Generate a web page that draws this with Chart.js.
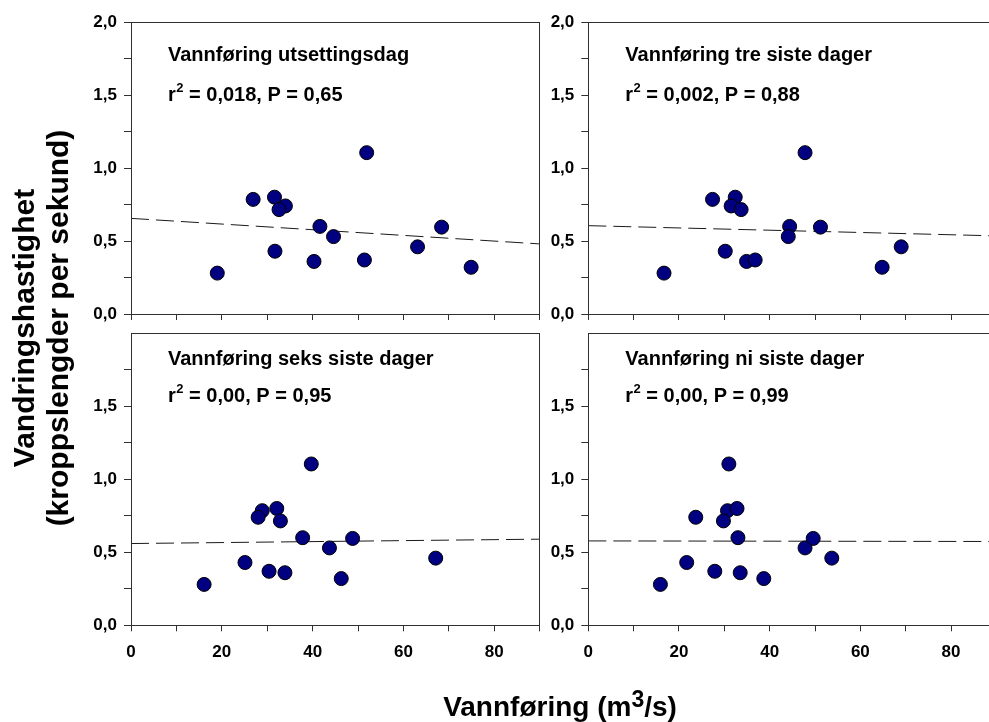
<!DOCTYPE html>
<html>
<head>
<meta charset="utf-8">
<script src="https://cdn.jsdelivr.net/npm/chart.js@4.4.1/dist/chart.umd.min.js"></script>
<style>
  html, body { margin: 0; padding: 0; background: #fff; overflow: hidden; }
  #fig { position: relative; width: 989px; height: 722px; overflow: hidden; background: #fff;
         font-family: "Liberation Sans", Arial, Helvetica, sans-serif; color: #000; }
  #fig canvas { position: absolute; }
  #ytitle { position: absolute; left: -189px; top: 294px; width: 460px; height: 68px;
            transform: rotate(-90deg); transform-origin: 50% 50%;
            text-align: center; font-weight: bold; font-size: 30px; line-height: 34px; white-space: nowrap; }
  #xtitle { position: absolute; left: 360px; top: 691px; width: 400px; text-align: center;
            font-weight: bold; font-size: 28px; line-height: 32px; white-space: nowrap; }
  #xtitle .sup { font-size: 23px; position: relative; top: -9px; }
</style>
</head>
<body>
<div id="fig">
  <canvas id="p0" width="560" height="340" style="left:0px;top:0px;width:560px;height:340px"></canvas>
  <canvas id="p1" width="480" height="340" style="left:540px;top:0px;width:480px;height:340px"></canvas>
  <canvas id="p2" width="560" height="406" style="left:0px;top:316px;width:560px;height:406px"></canvas>
  <canvas id="p3" width="480" height="406" style="left:540px;top:316px;width:480px;height:406px"></canvas>
  <div id="ytitle"><div>Vandringshastighet</div><div>(kroppslengder per sekund)</div></div>
  <div id="xtitle">Vannføring (m<span class="sup">3</span>/s)</div>
</div>
<script>
// Migration speed (body lengths per second) for each tagged fish
const speed = [0.28, 0.785, 0.80, 0.74, 0.715, 0.43, 0.60, 0.53, 0.36, 1.105, 0.37, 0.46, 0.595, 0.32];

// Water discharge (m3/s) for the same fish, averaged over different periods
const flowReleaseDay = [19.0, 26.9, 31.6, 34.0, 32.6, 31.7, 41.6, 44.6, 40.3, 51.9, 51.4, 63.1, 68.4, 74.9];
const flowLast3Days  = [16.7, 27.4, 32.4, 31.5, 33.7, 30.2, 44.4, 44.1, 34.9, 47.8, 36.8, 69.0, 51.2, 64.8];
const flowLast6Days  = [16.1, 28.9, 32.1, 28.0, 32.9, 25.1, 37.8, 43.7, 33.9, 39.7, 30.4, 67.1, 48.8, 46.3];
const flowLast9Days  = [15.9, 30.7, 32.8, 23.7, 29.8, 21.7, 33.0, 47.8, 33.5, 31.0, 27.9, 53.7, 49.6, 38.7];

const panelTitles = ["Vannføring utsettingsdag", "Vannføring tre siste dager",
                     "Vannføring seks siste dager", "Vannføring ni siste dager"];
const r2Values = ["0,018", "0,002", "0,00", "0,00"];
const pValues  = ["0,65", "0,88", "0,95", "0,99"];

// Fitted regression line, value at discharge 0 and at discharge 90
const fitAtZero = [0.655, 0.605, 0.560, 0.578];
const fitAtNinety = [0.480, 0.535, 0.590, 0.574];

const xMin = 0, xMax = 90, xStep = 10, xLabelEvery = 20;
const yMin = 0, yMax = 2.0, yStep = 0.25, yLabelEvery = 0.5;

const flows = [flowReleaseDay, flowLast3Days, flowLast6Days, flowLast9Days];

const INK = "#000";
const AXIS = "#303030";
const FONT = '"Liberation Sans", Arial, Helvetica, sans-serif';

// Box frame around the plotting area
const framePlugin = {
  id: "frame",
  afterDraw(chart) {
    const a = chart.chartArea, ctx = chart.ctx;
    const al = v => Math.round(v - 0.5) + 0.5;
    ctx.save();
    ctx.strokeStyle = AXIS;
    ctx.lineWidth = 1;
    ctx.strokeRect(al(a.left), al(a.top), al(a.right) - al(a.left), al(a.bottom) - al(a.top));
    ctx.restore();
  }
};

// Panel heading and regression statistics written inside the plot
const panelTextPlugin = {
  id: "panelText",
  afterDatasetsDraw(chart, args, opts) {
    const a = chart.chartArea, ctx = chart.ctx;
    const x0 = a.left + opts.dx;
    ctx.save();
    ctx.fillStyle = INK;
    ctx.textBaseline = "alphabetic";
    ctx.textAlign = "left";
    ctx.font = "bold 20px " + FONT;
    ctx.fillText(opts.title, x0, a.top + opts.titleDy);
    const yb = a.top + opts.statsDy;
    ctx.fillText("r", x0, yb);
    let x = x0 + ctx.measureText("r").width;
    ctx.font = "bold 13px " + FONT;
    ctx.fillText("2", x + 0.5, yb - 9);
    x += ctx.measureText("2").width + 0.5;
    ctx.font = "bold 20px " + FONT;
    ctx.fillText(" = " + opts.r2 + ", P = " + opts.p, x, yb);
    ctx.restore();
  }
};

function makePanel(i, cfg) {
  const showXLabels = cfg.bottomRow;
  const hideTopY = cfg.bottomRow;
  const points = flows[i].map((f, k) => ({ x: f, y: speed[k] }));
  return new Chart(document.getElementById("p" + i), {
    type: "scatter",
    data: {
      datasets: [
        {
          type: "scatter",
          data: points,
          order: 0,
          pointRadius: 7,
          pointHoverRadius: 7,
          pointBackgroundColor: "#000080",
          pointBorderColor: "#000",
          pointBorderWidth: 1
        },
        {
          type: "line",
          data: [{ x: xMin, y: fitAtZero[i] }, { x: xMax, y: fitAtNinety[i] }],
          order: 1,
          borderColor: "#1a1a1a",
          borderWidth: 1,
          borderDash: [18, 7],
          pointRadius: 0,
          fill: false,
          tension: 0
        }
      ]
    },
    options: {
      responsive: false,
      animation: false,
      devicePixelRatio: 1,
      events: [],
      layout: { padding: cfg.padding },
      plugins: {
        legend: { display: false },
        tooltip: { enabled: false },
        title: { display: false },
        panelText: {
          title: panelTitles[i], r2: r2Values[i], p: pValues[i],
          dx: 37, titleDy: cfg.titleDy, statsDy: cfg.statsDy
        }
      },
      scales: {
        x: {
          type: "linear",
          position: "bottom",
          min: xMin, max: xMax,
          afterFit(s) { s.height = cfg.xAxisHeight; },
          border: { display: true, color: AXIS, width: 1 },
          grid: { display: true, drawOnChartArea: false, drawTicks: true, tickLength: 6, tickColor: AXIS, tickWidth: 1 },
          ticks: {
            stepSize: xStep, autoSkip: false, maxRotation: 0, minRotation: 0,
            padding: 11, color: INK,
            font: { family: FONT, size: 17, weight: "bold" },
            callback: v => (showXLabels && v % xLabelEvery === 0 && v < xMax) ? String(v) : ""
          }
        },
        y: {
          type: "linear",
          position: "left",
          min: yMin, max: yMax,
          afterFit(s) { s.width = cfg.yAxisWidth; },
          border: { display: true, color: AXIS, width: 1 },
          grid: {
            display: true, drawOnChartArea: false, drawTicks: true, tickLength: 7, tickWidth: 1,
            tickColor: c => (hideTopY && c.tick && Math.abs(c.tick.value - yMax) < 1e-9) ? "rgba(0,0,0,0)" : AXIS
          },
          ticks: {
            stepSize: yStep, autoSkip: false, padding: 7, color: INK,
            font: { family: FONT, size: 17, weight: "bold" },
            callback: v => {
              const onLabel = Math.abs(v / yLabelEvery - Math.round(v / yLabelEvery)) < 1e-9;
              if (!onLabel) return "";
              if (hideTopY && Math.abs(v - yMax) < 1e-9) return "";
              return v.toFixed(1).replace(".", ",");
            }
          }
        }
      }
    },
    plugins: [framePlugin, panelTextPlugin]
  });
}

makePanel(0, { bottomRow: false, yAxisWidth: 131, xAxisHeight: 20,
  padding: { left: 0, top: 22, right: 20.3, bottom: 6 }, titleDy: 39, statsDy: 78.7 });
makePanel(1, { bottomRow: false, yAxisWidth: 48.3, xAxisHeight: 20,
  padding: { left: 0, top: 22, right: 23.6, bottom: 6 }, titleDy: 39, statsDy: 78.7 });
makePanel(2, { bottomRow: true, yAxisWidth: 131, xAxisHeight: 40,
  padding: { left: 0, top: 17.3, right: 20.3, bottom: 56.7 }, titleDy: 32, statsDy: 68.5 });
makePanel(3, { bottomRow: true, yAxisWidth: 48.3, xAxisHeight: 40,
  padding: { left: 0, top: 17.3, right: 23.6, bottom: 56.7 }, titleDy: 32, statsDy: 68.5 });
</script>
</body>
</html>
